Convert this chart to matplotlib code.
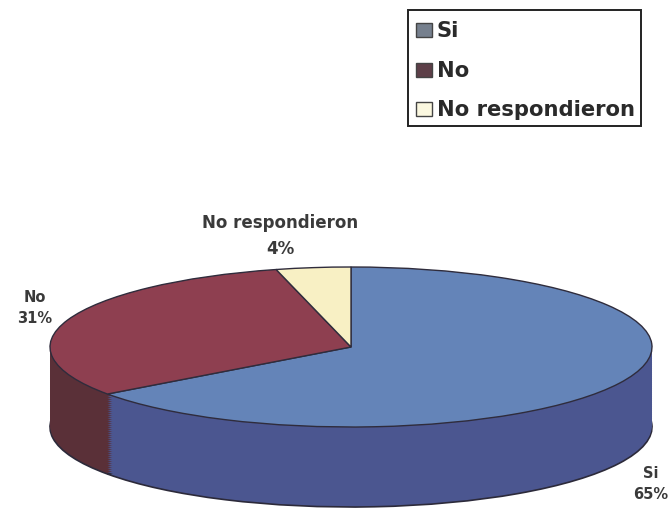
import matplotlib
matplotlib.use('Agg')
import matplotlib.pyplot as plt
from matplotlib.patches import Rectangle

labels = ['Si', 'No', 'No respondieron']
values = [65, 31, 4]
top_colors = ['#6484b8', '#8e3f50', '#f8f0c4']
side_colors = ['#4b5690', '#5a3038', '#b5ae86']
legend_colors = ['#76808e', '#5d3f48', '#fbf8e0']

plt.rcParams['font.family'] = ['DejaVu Sans']

W, H = 672, 510
fig = plt.figure(figsize=(W / 100, H / 100), dpi=100)
ax = fig.add_axes([0, 0, 1, 1])

# pie is squashed by the data limits, radius 1 = 301px wide and 80px high
cx, cy = 351, 348
rx, ry = 301, 80
depth = 80

# stacked pies give the side wall, the lowest one carries the dark outline
for d in range(depth, 0, -2):
    edge = {'edgecolor': '#2c2a3a', 'linewidth': 1.2} if d == depth else {}
    ax.pie(values, colors=side_colors, startangle=90, counterclock=False,
           center=(0, -d / ry), radius=1, frame=True, wedgeprops=edge)
ax.pie(values, colors=top_colors, startangle=90, counterclock=False,
       center=(0, 0), radius=1, frame=True,
       wedgeprops={'edgecolor': '#2f2c3c', 'linewidth': 1.0})
ax.set_xlim(-cx / rx, (W - cx) / rx)
ax.set_ylim(-(H - cy) / ry, cy / ry)
ax.set_aspect('auto')
ax.axis('off')


def px(x, y):
    return ((x - cx) / rx, (cy - y) / ry)


text_style = dict(fontweight='bold', color='#3a3a3a', ha='center', va='center', linespacing=1.55)
ax.text(*px(280, 236), 'No respondieron\n4%', fontsize=12, **text_style)
ax.text(*px(35, 308), 'No\n31%', fontsize=10.5, **text_style)
ax.text(*px(651, 484), 'Si\n65%', fontsize=10.5, **text_style)

# legend box
fig.add_artist(Rectangle((408 / W, 1 - 127 / H), 233 / W, 116 / H, transform=fig.transFigure,
                         facecolor='white', edgecolor='#222222', linewidth=1.4))
for name, color, y in zip(labels, legend_colors, [31, 71, 110]):
    fig.add_artist(Rectangle((416 / W, 1 - (y + 7) / H), 16 / W, 14 / H, transform=fig.transFigure,
                             facecolor=color, edgecolor='#444444', linewidth=1))
    fig.text(437 / W, 1 - y / H, name, fontsize=15.2, fontweight='bold', color='#2a2a2a', va='center')

fig.savefig('out.png', dpi=100)
